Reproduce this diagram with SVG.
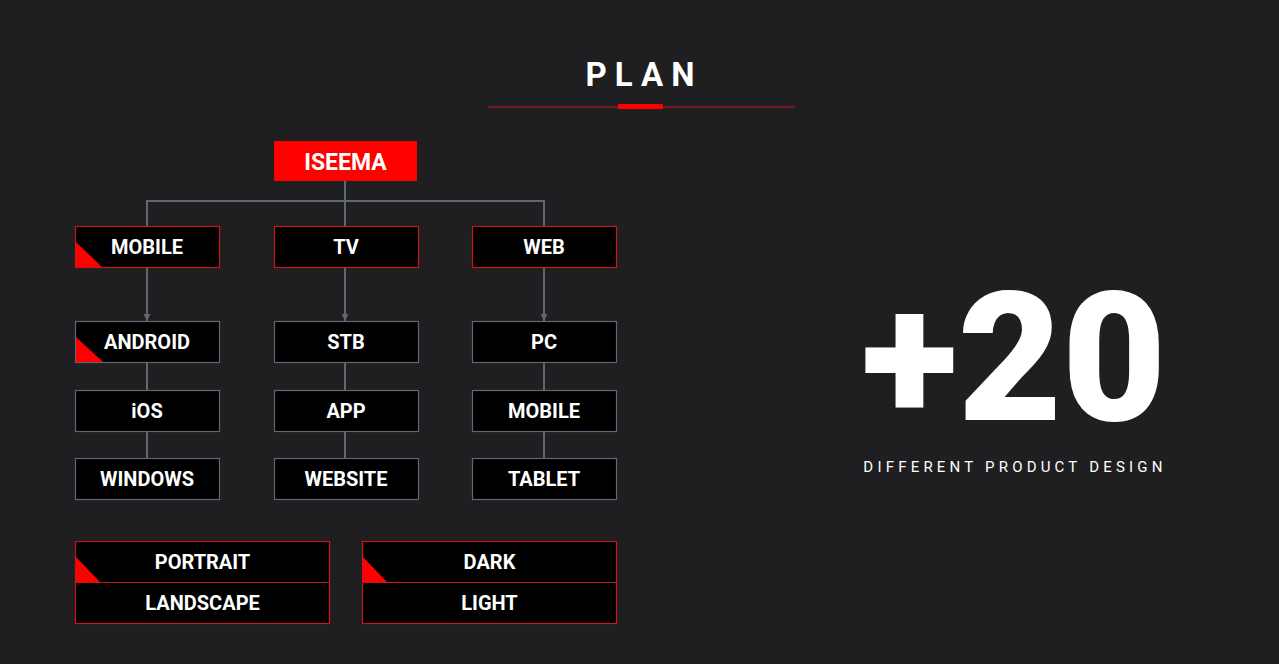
<svg xmlns="http://www.w3.org/2000/svg" width="1279" height="664" viewBox="0 0 1279 664">
<defs>
<style>
.t{font-family:Roboto,"Liberation Sans",sans-serif;font-weight:700;fill:#ffffff;text-anchor:middle}
.n{font-size:20px}
.big{font-size:180px;font-weight:900}
.sub{font-size:15px;font-weight:400;letter-spacing:4.2px}
.rb{fill:#000;stroke:#c8161c;stroke-width:1.2}
.gb{fill:#000;stroke:#5f6870;stroke-width:1.2}
.c{stroke:#5f6870;stroke-width:2;fill:none}
.tri{fill:#ff0000}
</style>
<marker id="ah" viewBox="0 0 10 10" refX="10" refY="5" markerWidth="7" markerHeight="7" markerUnits="userSpaceOnUse" orient="auto">
<path d="M0,0 L10,5 L0,10 z" fill="#5f6870"/>
</marker>
</defs>
<rect width="1279" height="664" fill="#1f1e21"/>
<g id="title">
<text class="t" x="644" y="86" font-size="33" letter-spacing="8">PLAN</text>
<line x1="488" y1="107" x2="795" y2="107" stroke="#c8161c" stroke-width="1"/>
<rect x="618" y="104" width="45" height="5" fill="#ff0000"/>
</g>
<g id="connectors">
<path class="c" d="M345,181 V201 M147,226 V201 H544 V226 M345,201 V226"/>
<line class="c" x1="147" y1="267" x2="147" y2="321" marker-end="url(#ah)"/>
<line class="c" x1="345" y1="267" x2="345" y2="321" marker-end="url(#ah)"/>
<line class="c" x1="544" y1="267" x2="544" y2="321" marker-end="url(#ah)"/>
<path class="c" d="M147,362 V390 M147,431 V458 M345,362 V390 M345,431 V458 M544,362 V390 M544,431 V458"/>
</g>
<g id="iseema">
<rect x="274" y="141" width="143" height="40" fill="#ff0000"/>
<text class="t" x="345.5" y="169.5" font-size="23">ISEEMA</text>
</g>
<g id="mobile">
<rect class="rb" x="75.5" y="226.5" width="144" height="41"/>
<polygon class="tri" points="76,242 76,267 102,267"/>
<text class="t n" x="147" y="254">MOBILE</text>
</g>
<g id="tv">
<rect class="rb" x="274.5" y="226.5" width="144" height="41"/>
<text class="t n" x="346" y="254">TV</text>
</g>
<g id="web">
<rect class="rb" x="472.5" y="226.5" width="144" height="41"/>
<text class="t n" x="544" y="254">WEB</text>
</g>
<g id="android">
<rect class="gb" x="75.5" y="321.5" width="144" height="41"/>
<polygon class="tri" points="76,337 76,362 103,362"/>
<text class="t n" x="147" y="349">ANDROID</text>
</g>
<g id="ios">
<rect class="gb" x="75.5" y="390.5" width="144" height="41"/>
<text class="t n" x="147" y="418">iOS</text>
</g>
<g id="windows">
<rect class="gb" x="75.5" y="458.5" width="144" height="41"/>
<text class="t n" x="147" y="486">WINDOWS</text>
</g>
<g id="stb">
<rect class="gb" x="274.5" y="321.5" width="144" height="41"/>
<text class="t n" x="346" y="349">STB</text>
</g>
<g id="app">
<rect class="gb" x="274.5" y="390.5" width="144" height="41"/>
<text class="t n" x="346" y="418">APP</text>
</g>
<g id="website">
<rect class="gb" x="274.5" y="458.5" width="144" height="41"/>
<text class="t n" x="346" y="486">WEBSITE</text>
</g>
<g id="pc">
<rect class="gb" x="472.5" y="321.5" width="144" height="41"/>
<text class="t n" x="544" y="349">PC</text>
</g>
<g id="mobile2">
<rect class="gb" x="472.5" y="390.5" width="144" height="41"/>
<text class="t n" x="544" y="418">MOBILE</text>
</g>
<g id="tablet">
<rect class="gb" x="472.5" y="458.5" width="144" height="41"/>
<text class="t n" x="544" y="486">TABLET</text>
</g>
<g id="orientation">
<rect class="rb" x="75.5" y="541.5" width="254" height="82"/>
<line x1="75.5" y1="582.5" x2="329.5" y2="582.5" stroke="#c8161c" stroke-width="1.2"/>
<polygon class="tri" points="76,557 76,582 100,582"/>
<text class="t n" x="202.5" y="569">PORTRAIT</text>
<text class="t n" x="202.5" y="610">LANDSCAPE</text>
</g>
<g id="theme">
<rect class="rb" x="362.5" y="541.5" width="254" height="82"/>
<line x1="362.5" y1="582.5" x2="616.5" y2="582.5" stroke="#c8161c" stroke-width="1.2"/>
<polygon class="tri" points="363,557 363,582 387,582"/>
<text class="t n" x="489.5" y="569">DARK</text>
<text class="t n" x="489.5" y="610">LIGHT</text>
</g>
<g id="stat">
<text class="t big" x="1014" y="420">+20</text>
<text class="t sub" x="1015" y="472">DIFFERENT PRODUCT DESIGN</text>
</g>
</svg>
